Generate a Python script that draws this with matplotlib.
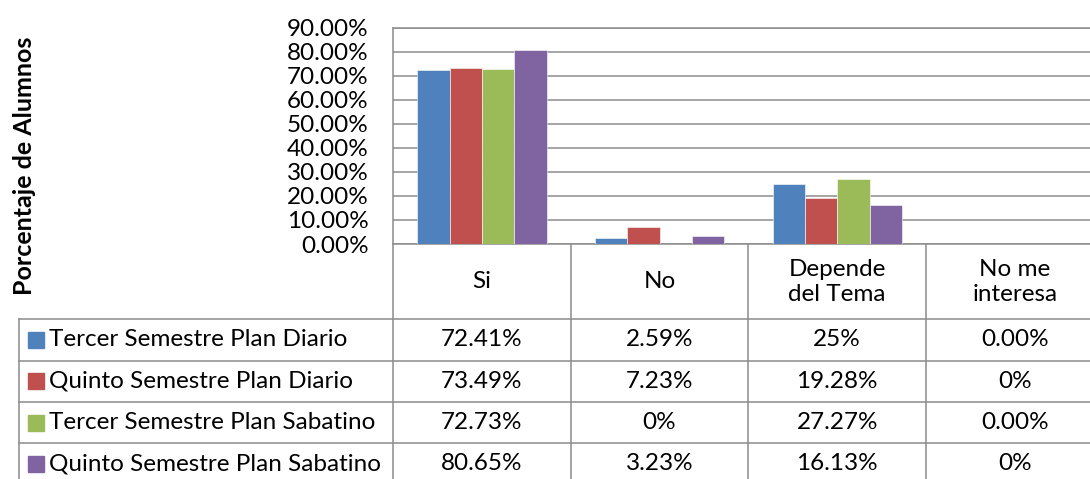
import matplotlib
matplotlib.use("Agg")
import numpy as np
from matplotlib import pyplot as plt
from matplotlib.lines import Line2D
from matplotlib.patches import Rectangle
from matplotlib.transforms import blended_transform_factory

plt.rcParams['font.family'] = ['Lato', 'DejaVu Sans']

categories = ["Si", "No", "Depende\ndel Tema", "No me\ninteresa"]
series = ["Tercer Semestre Plan Diario", "Quinto Semestre Plan Diario",
          "Tercer Semestre Plan Sabatino", "Quinto Semestre Plan Sabatino"]
tercer_diario = [0.7241, 0.0259, 0.25, 0.0]
quinto_diario = [0.7349, 0.0723, 0.1928, 0.0]
tercer_sabatino = [0.7273, 0.0, 0.2727, 0.0]
quinto_sabatino = [0.8065, 0.0323, 0.1613, 0.0]
table_labels = [
    ["72.41%", "2.59%", "25%", "0.00%"],
    ["73.49%", "7.23%", "19.28%", "0%"],
    ["72.73%", "0%", "27.27%", "0.00%"],
    ["80.65%", "3.23%", "16.13%", "0%"],
]
yticks = np.arange(0, 0.91, 0.1)
colors = ["#4F81BD", "#C0504D", "#9BBB59", "#8064A2"]

W, H = 1090, 479
fx = lambda px: px / W
fy = lambda py: 1 - py / H
grid_c = "#8c8c8c"
fs = 17.5

fig = plt.figure(figsize=(W / 100, H / 100), dpi=100)
cat_w = 177.7
ax = fig.add_axes([fx(393), fy(244), 4 * cat_w / W, 216 / H])

x = np.arange(len(categories))
bw = 0.182
for i, vals in enumerate([tercer_diario, quinto_diario, tercer_sabatino, quinto_sabatino]):
    ax.bar(x + (i - 1.5) * bw, vals, bw, color=colors[i], edgecolor="white", linewidth=0.4, zorder=3)

ax.set_xlim(-0.5, 3.5)
ax.set_ylim(0, 0.9)
ax.set_yticks(yticks)
ax.set_yticklabels([f"{v * 100:.2f}%" for v in yticks], fontsize=fs)
ax.tick_params(axis="y", length=0, pad=17.5)
ax.set_xticks([])
ax.yaxis.grid(True, color=grid_c, linewidth=1.1)
ax.set_axisbelow(True)
for s in ax.spines.values():
    s.set_color(grid_c)
    s.set_linewidth(1.1)

fig.text(fx(25), fy(166), "Porcentaje de Alumnos", rotation=90, fontsize=18,
         fontweight="bold", ha="center", va="center")

# data table under the plot
trans = blended_transform_factory(ax.transData, fig.transFigure)
rows = [319, 360.5, 402, 443, 484.5]
for b in np.arange(-0.5, 3.6, 1.0):
    fig.add_artist(Line2D([b, b], [fy(244), fy(rows[-1])], transform=trans,
                          color=grid_c, linewidth=1.1))
for r in rows:
    fig.add_artist(Line2D([fx(19), fx(1100)], [fy(r), fy(r)], transform=fig.transFigure,
                          color=grid_c, linewidth=1.1))
fig.add_artist(Line2D([fx(19), fx(19)], [fy(rows[0]), fy(rows[-1])], transform=fig.transFigure,
                      color=grid_c, linewidth=1.1))

for j, cat in enumerate(categories):
    fig.text(j, fy(282), cat, transform=trans, fontsize=fs, ha="center", va="center",
             linespacing=1.2)

for i, name in enumerate(series):
    yc = (rows[i] + rows[i + 1]) / 2
    fig.add_artist(Rectangle((fx(28), fy(yc + 8)), 16 / W, 16 / H, transform=fig.transFigure,
                             color=colors[i]))
    fig.text(fx(49), fy(yc), name, fontsize=fs, ha="left", va="center")
    for j, lab in enumerate(table_labels[i]):
        fig.text(j, fy(yc), lab, transform=trans, fontsize=fs, ha="center", va="center")

fig.savefig("out.png", dpi=100)
